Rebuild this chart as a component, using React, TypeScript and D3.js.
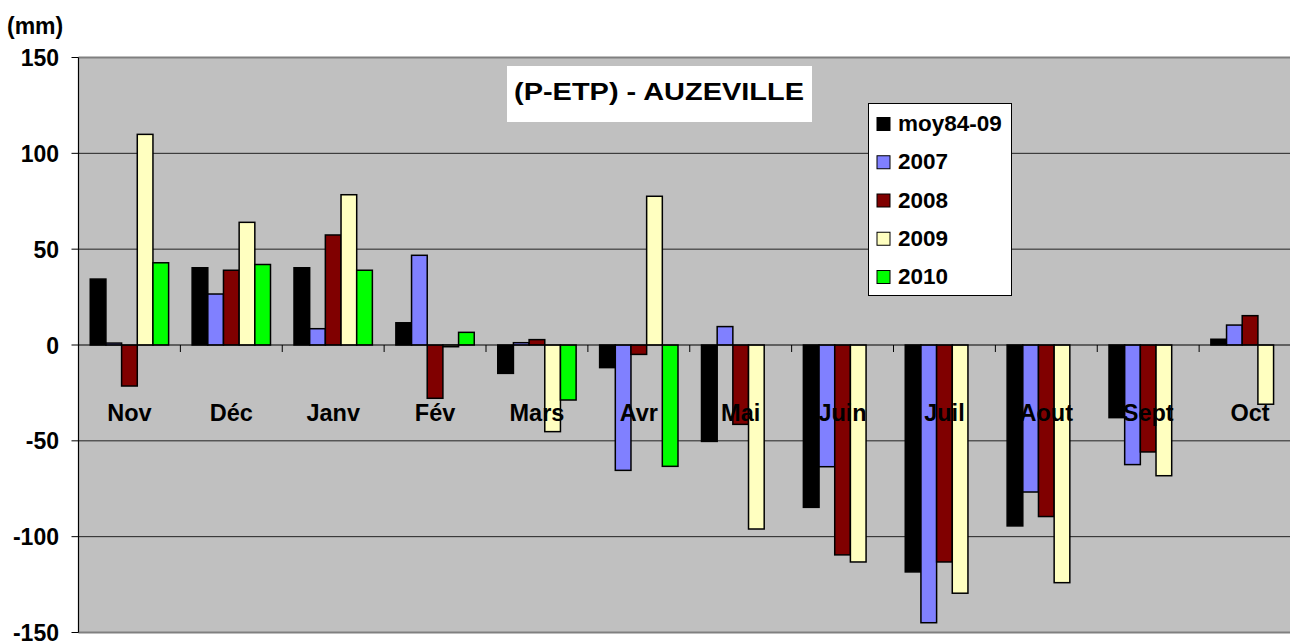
import React from "react";
import * as d3 from "d3";

const months = ["Nov", "Déc", "Janv", "Fév", "Mars", "Avr", "Mai", "Juin", "Juil", "Aout", "Sept", "Oct"];
const seriesNames = ["moy84-09", "2007", "2008", "2009", "2010"];
const seriesColors = ["#000000", "#8080FF", "#800000", "#FFFFC0", "#00FF00"];

const moy8409 = [34.4, 40.3, 40.3, 11.6, -14.8, -11.8, -50.3, -84.7, -118.4, -94.4, -37.9, 3];
const y2007 = [1, 26.6, 8.5, 46.8, 1.2, -65.4, 9.6, -63.5, -144.9, -76.7, -62.4, 10.4];
const y2008 = [-21.4, 39, 57.4, -27.8, 2.8, -4.9, -41.4, -109.5, -113.2, -89.5, -55.8, 15.3];
const y2009 = [109.9, 64, 78.4, -0.9, -45.2, 77.6, -96, -113.2, -129.5, -124, -68.2, -30.9];
const y2010: (number | null)[] = [42.9, 42, 39, 6.6, -28.7, -63.3, null, null, null, null, null, null];

const yTicks = [150, 100, 50, 0, -50, -100, -150];
const seriesValues: (number | null)[][] = [moy8409, y2007, y2008, y2009, y2010];

const W = 1290;
const H = 641;
const plot = { left: 78.5, right: 1301, top: 57.5, bottom: 632.5 };
const FONT = "'Liberation Sans', Arial, sans-serif";

export default function App() {
  const x = d3.scaleBand<string>().domain(months).range([plot.left, plot.right]).padding(0);
  const cat = x.bandwidth();
  const barW = cat / 6.5;
  const gap = cat - barW * 5;
  const xs = d3
    .scaleBand<string>()
    .domain(seriesNames)
    .range([gap / 2, cat - gap / 2])
    .padding(0);
  const y = d3.scaleLinear().domain([-150, 150]).range([plot.bottom, plot.top]);
  const y0 = y(0);

  return (
    <svg
      width={W}
      height={H}
      style={{ position: "absolute", left: 0, top: 0, background: "#fff" }}
      fontFamily={FONT}
    >
      <defs>
        <clipPath id="clipAll">
          <rect x={0} y={0} width={W} height={H} />
        </clipPath>
      </defs>
      {/* plot background */}
      <rect
        x={plot.left}
        y={plot.top}
        width={plot.right - plot.left}
        height={plot.bottom - plot.top}
        fill="#C0C0C0"
      />
      <line x1={plot.left} x2={plot.right} y1={plot.top} y2={plot.top} stroke="#808080" strokeWidth={2} />
      <line x1={plot.left} x2={plot.right} y1={plot.bottom} y2={plot.bottom} stroke="#808080" strokeWidth={2} />
      {/* gridlines */}
      {yTicks
        .filter((t) => t !== 150 && t !== -150 && t !== 0)
        .map((t) => (
          <line key={t} x1={plot.left} x2={plot.right} y1={y(t)} y2={y(t)} stroke="#222" strokeWidth={1} />
        ))}
      {/* title box */}
      <rect x={507} y={66} width={305} height={56} fill="#fff" />
      <text
        x={659}
        y={100}
        textAnchor="middle"
        fontSize={23.5}
        fontWeight="bold"
        textLength={290}
        lengthAdjust="spacingAndGlyphs"
      >
        (P-ETP) - AUZEVILLE
      </text>
      {/* bars */}
      {seriesValues.map((vals, si) =>
        vals.map((v, mi) => {
          if (v === null) return null;
          const bx = (x(months[mi]) as number) + (xs(seriesNames[si]) as number);
          const top = Math.min(y(v), y0);
          const h = Math.abs(y(v) - y0);
          return (
            <rect
              key={`${si}-${mi}`}
              x={bx}
              y={top}
              width={barW}
              height={h}
              fill={seriesColors[si]}
              stroke="#000"
              strokeWidth={1.5}
            />
          );
        })
      )}
      {/* zero line */}
      <line x1={plot.left} x2={plot.right} y1={y0} y2={y0} stroke="#000" strokeWidth={1.2} />
      {/* category ticks */}
      {months.slice(1).map((m) => (
        <line key={m} x1={x(m)} x2={x(m)} y1={y0} y2={y0 + 7} stroke="#000" strokeWidth={1} />
      ))}
      {/* y axis */}
      <line x1={plot.left} x2={plot.left} y1={plot.top} y2={plot.bottom} stroke="#000" strokeWidth={1.2} />
      {yTicks.map((t) => (
        <g key={t}>
          <line x1={plot.left - 7} x2={plot.left} y1={y(t)} y2={y(t)} stroke="#000" strokeWidth={1} />
          <text x={59} y={y(t) + 8.5} textAnchor="end" fontSize={23} fontWeight="bold">
            {t}
          </text>
        </g>
      ))}
      {/* category labels */}
      {months.map((m) => (
        <text
          key={m}
          x={(x(m) as number) + cat / 2}
          y={421}
          textAnchor="middle"
          fontSize={23.5}
          fontWeight="bold"
        >
          {m}
        </text>
      ))}
      {/* unit label */}
      <text x={7} y={34} fontSize={23} fontWeight="bold">
        (mm)
      </text>
      {/* legend */}
      <rect x={868.5} y={103.5} width={143} height={192} fill="#fff" stroke="#000" strokeWidth={1} />
      {seriesNames.map((s, i) => {
        const base = 131 + i * 38.25;
        return (
          <g key={s}>
            <rect x={877} y={base - 13.5} width={13} height={13} fill={seriesColors[i]} stroke="#000" strokeWidth={1} />
            <text x={898} y={base} fontSize={22.5} fontWeight="bold">
              {s}
            </text>
          </g>
        );
      })}
    </svg>
  );
}
